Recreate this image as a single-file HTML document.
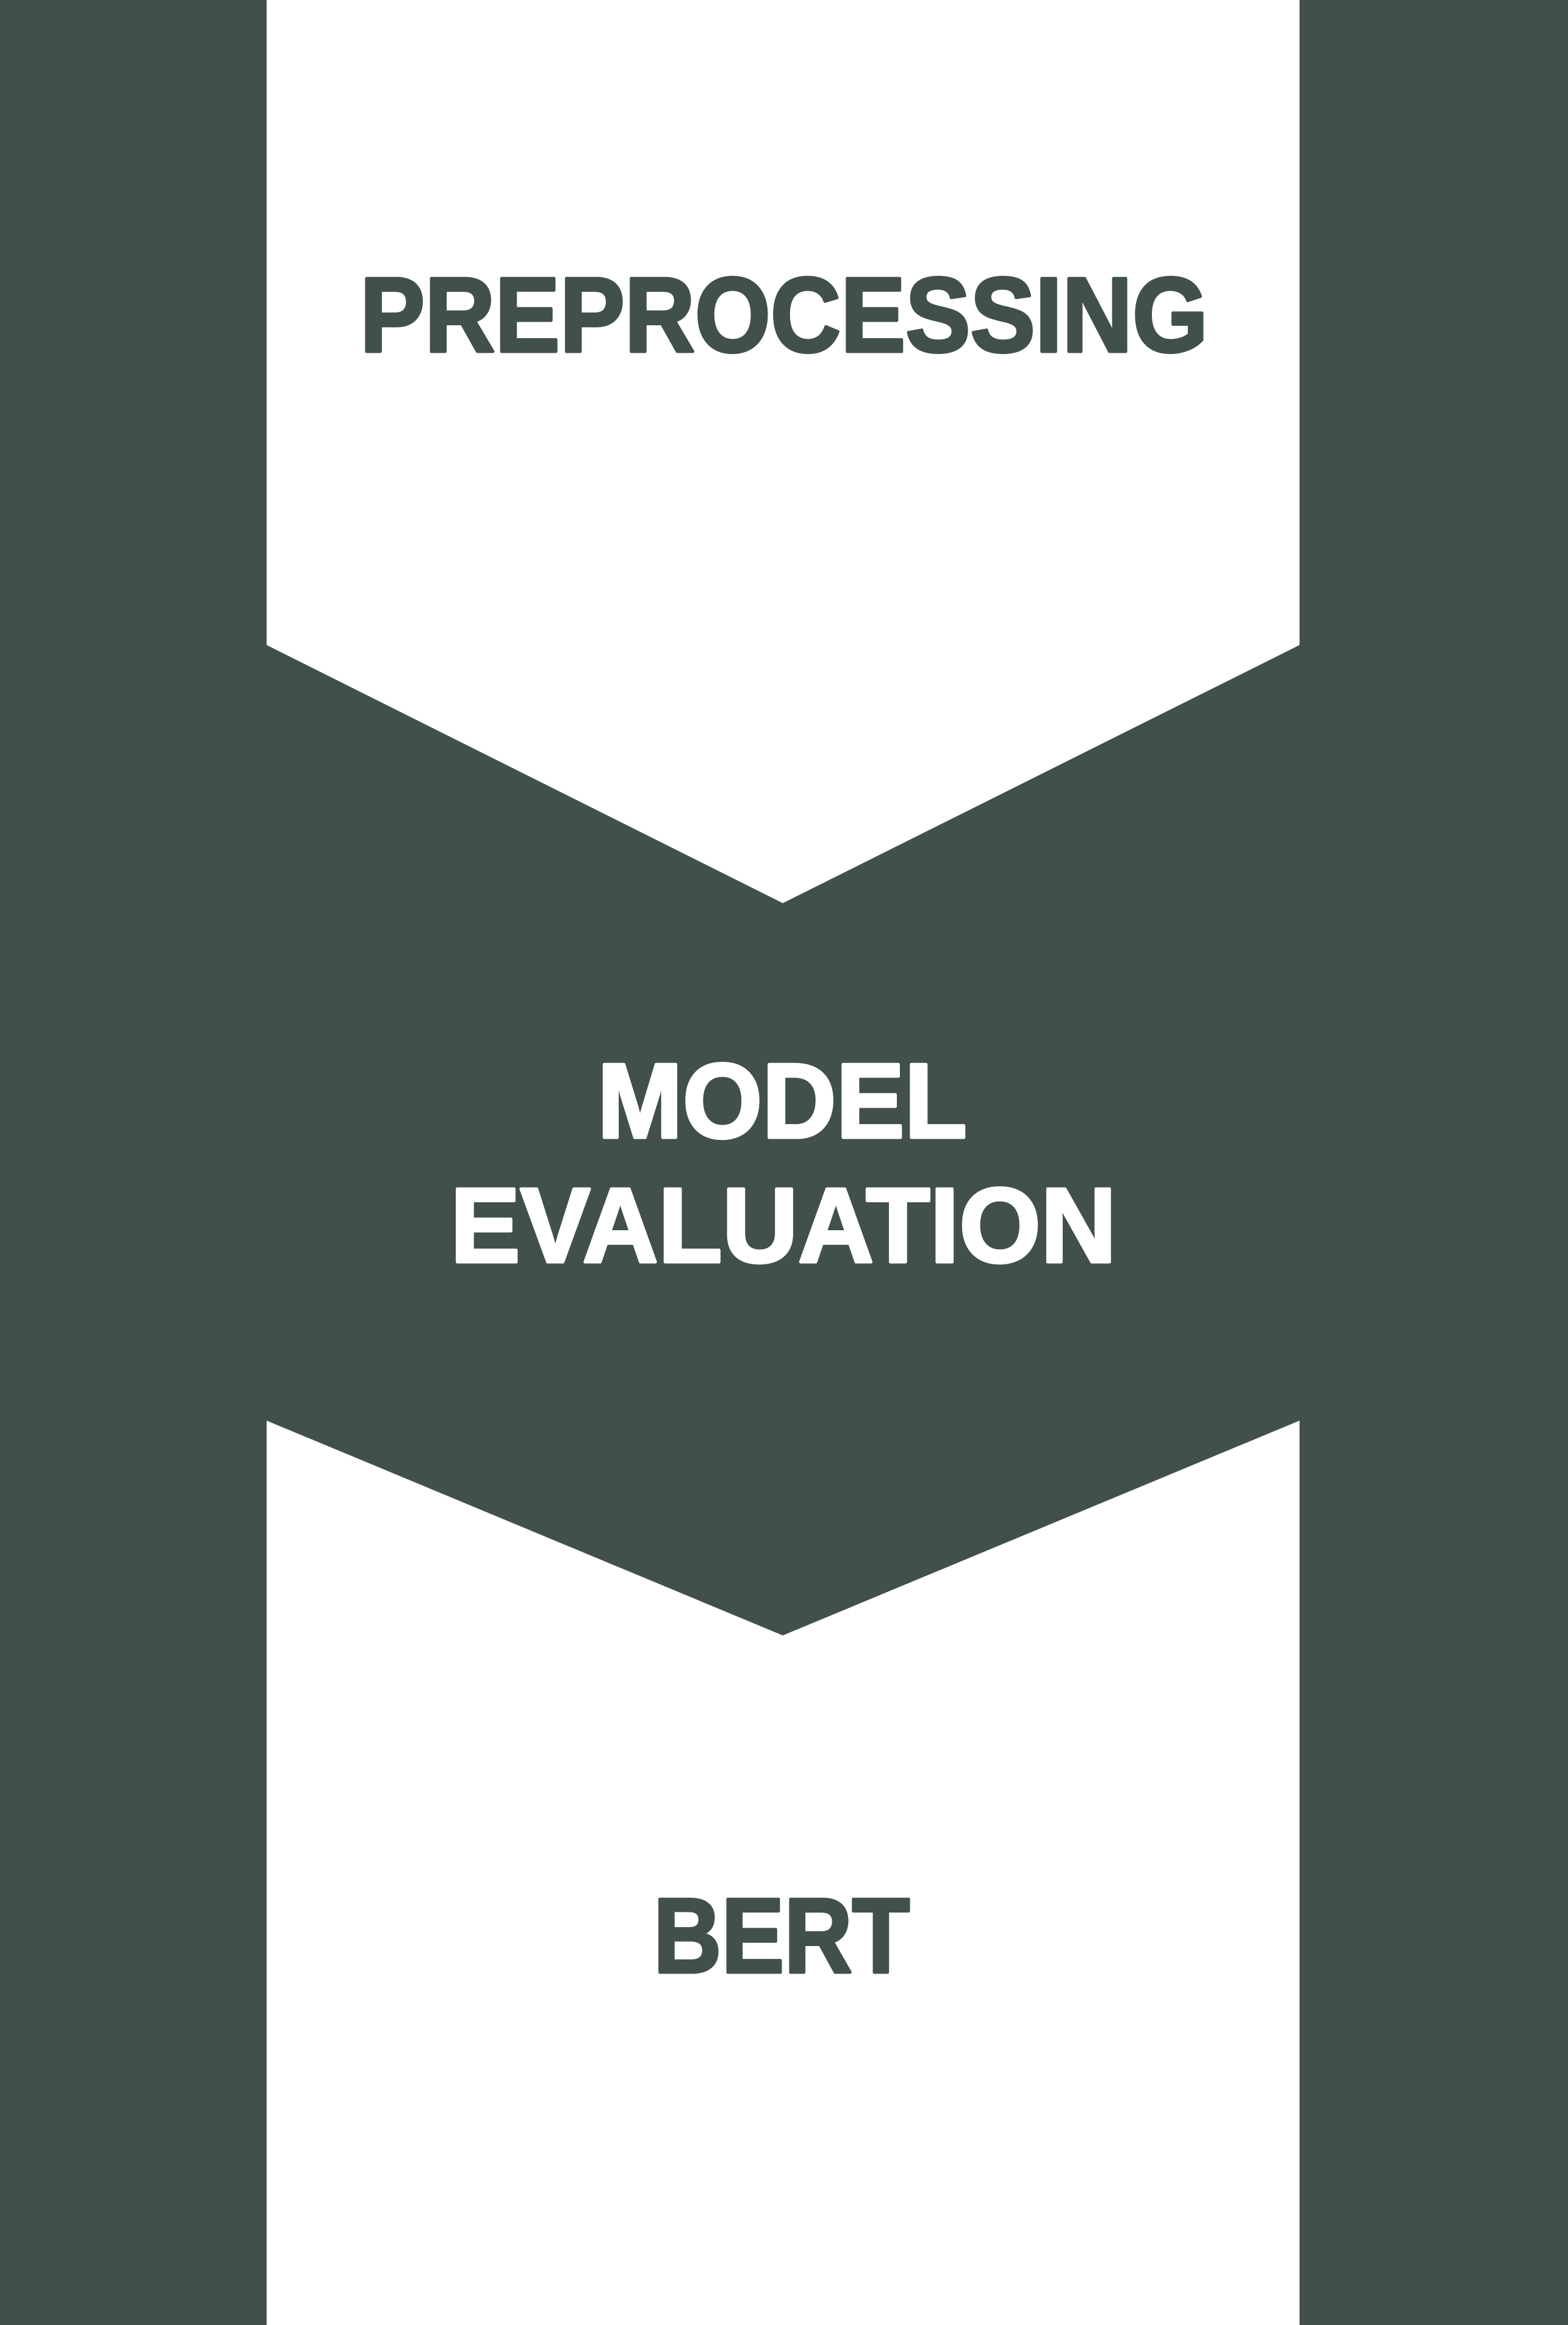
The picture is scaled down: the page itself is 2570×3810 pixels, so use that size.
<!DOCTYPE html>
<html>
<head>
<meta charset="utf-8">
<style>
html,body{margin:0;padding:0;background:#fff;}
svg{display:block;}
text{font-family:"Liberation Sans",sans-serif;font-weight:bold;stroke-width:5;stroke-linejoin:round;}
</style>
</head>
<body>
<svg width="2570" height="3810" viewBox="0 0 2570 3810" xmlns="http://www.w3.org/2000/svg">
  <rect x="0" y="0" width="2570" height="3810" fill="#41504a"/>
  <polygon points="437,0 2130,0 2130,1057 1283,1480 437,1057" fill="#ffffff"/>
  <polygon points="437,2328 1283,2680 2130,2328 2130,3810 437,3810" fill="#ffffff"/>
  <text x="590" y="576" font-size="174" fill="#41504a" stroke="#41504a" textLength="1390" lengthAdjust="spacingAndGlyphs">PREPROCESSING</text>
  <text x="979" y="1864" font-size="174" fill="#ffffff" stroke="#ffffff" textLength="606" lengthAdjust="spacingAndGlyphs">MODEL</text>
  <text x="738" y="2068" font-size="174" fill="#ffffff" stroke="#ffffff" textLength="1092" lengthAdjust="spacingAndGlyphs">EVALUATION</text>
  <text x="1071" y="3232" font-size="174" fill="#41504a" stroke="#41504a" textLength="420" lengthAdjust="spacingAndGlyphs">BERT</text>
</svg>
</body>
</html>
